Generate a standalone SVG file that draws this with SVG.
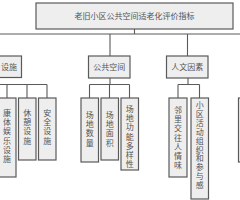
<svg xmlns="http://www.w3.org/2000/svg" width="240" height="200" viewBox="0 0 240 200">
<defs>
<style>
.box{fill:#eeeeee;stroke:#5a5a5a;stroke-width:1.2}
.ln{fill:none;stroke:#5a5a5a;stroke-width:1.1}
.t{font-family:"Noto Sans CJK SC","Noto Sans CJK JP",sans-serif;font-size:8px;fill:#555;text-anchor:middle}
.v{font-family:"Noto Sans CJK SC","Noto Sans CJK JP",sans-serif;font-size:8px;fill:#555;writing-mode:vertical-rl;text-anchor:start;letter-spacing:1.2px}
</style>
</defs>
<rect width="240" height="200" fill="#ffffff"/>
<g id="connectors" class="ln">
<path d="M134.5 29V34M0 34H240M110 34V56M187.5 34V56"/>
<path d="M0 84.5H47M7 84.5V98M27 84.5V98M47 84.5V98"/>
<path d="M110 78V84.5M89.5 84.5H129.5M89.5 84.5V98M109.5 84.5V98M129.5 84.5V98"/>
<path d="M188 78V84.5M178 84.5H199.5M178 84.5V98M199.5 84.5V98"/>
</g>
<g id="root">
<rect class="box" x="36" y="3" width="197" height="26"/>
<text class="t" x="134.5" y="19">老旧小区公共空间适老化评价指标</text>
</g>
<g id="sheshi">
<rect class="box" x="-20" y="56" width="41.5" height="21.5"/>
<text class="t" x="9" y="69.5">设施</text>
</g>
<g id="gonggong">
<rect class="box" x="88.5" y="56" width="41.5" height="22"/>
<text class="t" x="109.3" y="70">公共空间</text>
</g>
<g id="renwen">
<rect class="box" x="166.5" y="56" width="41.5" height="22"/>
<text class="t" x="187.3" y="70">人文因素</text>
</g>
<g id="kangti">
<rect class="box" x="-2" y="98" width="18" height="79"/>
<text class="v" x="7" y="109">康体娱乐设施</text>
</g>
<g id="xiuqi">
<rect class="box" x="18.5" y="98" width="17.5" height="62"/>
<text class="v" x="27.2" y="109">休憩设施</text>
</g>
<g id="anquan">
<rect class="box" x="38.5" y="98" width="17.5" height="62"/>
<text class="v" x="47.2" y="109">安全设施</text>
</g>
<g id="shuliang">
<rect class="box" x="81" y="98" width="17.5" height="64"/>
<text class="v" x="89.7" y="111">场地数量</text>
</g>
<g id="mianji">
<rect class="box" x="101" y="98" width="17.5" height="62"/>
<text class="v" x="109.7" y="111">场地面积</text>
</g>
<g id="duoyang">
<rect class="box" x="121" y="98" width="17.5" height="72"/>
<text class="v" x="129.7" y="105">场地功能多样性</text>
</g>
<g id="linli">
<rect class="box" x="169" y="98" width="18" height="79"/>
<text class="v" x="178" y="106">邻里交往人情味</text>
</g>
<g id="huodong">
<rect class="box" x="191" y="98" width="17.5" height="101"/>
<text class="v" style="letter-spacing:0.9px" x="199.7" y="101">小区活动组织和参与感</text>
</g>
<g id="right-partial">
<rect class="box" x="238.5" y="98" width="20" height="64"/>
</g>
</svg>
